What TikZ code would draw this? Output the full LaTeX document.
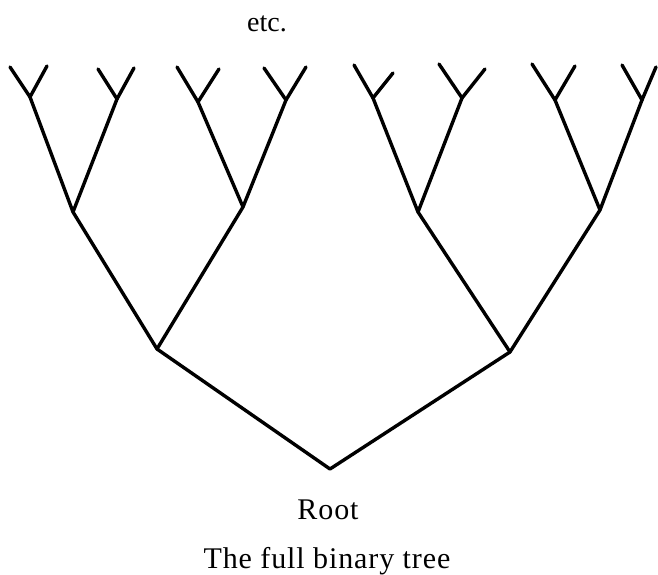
\documentclass[tikz,border=0pt]{standalone}
\usepackage{fontspec}
\setmainfont{Liberation Serif}
\newfontfamily\spacedserif[LetterSpace=3]{Liberation Serif}
\begin{document}
\begin{tikzpicture}[x=1pt,y=-1pt,
  branch/.style={line width=3.4pt,line cap=round,line join=round},
  lbl/.style={font=\fontsize{28}{30}\selectfont,inner sep=0pt},
  biglbl/.style={font=\spacedserif\fontsize{30}{32}\selectfont,inner sep=0pt}]
\useasboundingbox (0,0) rectangle (658,575);
% root and levels
\coordinate (r) at (330,469);
\coordinate (a) at (157,349);
\coordinate (b) at (510,352);
\coordinate (aa) at (73,212);
\coordinate (ab) at (243,207);
\coordinate (ba) at (418,212);
\coordinate (bb) at (600,210);
\coordinate (aaa) at (30,97);
\coordinate (aab) at (117,99);
\coordinate (aba) at (198,102);
\coordinate (abb) at (286,100);
\coordinate (baa) at (373,98);
\coordinate (bab) at (462,98);
\coordinate (bba) at (555,100);
\coordinate (bbb) at (642,100);
% tips
\coordinate (t1) at (10,67);  \coordinate (t2) at (47,66);
\coordinate (t3) at (98,69);  \coordinate (t4) at (134,68);
\coordinate (t5) at (177,67); \coordinate (t6) at (219,69);
\coordinate (t7) at (264,68); \coordinate (t8) at (306,67);
\coordinate (t9) at (354,65); \coordinate (t10) at (393,73);
\coordinate (t11) at (439,64); \coordinate (t12) at (485,69);
\coordinate (t13) at (532,64); \coordinate (t14) at (575,66);
\coordinate (t15) at (622,65); \coordinate (t16) at (656,67);
\draw[branch] (a) -- (r) -- (b);
\draw[branch] (aa) -- (a) -- (ab);
\draw[branch] (ba) -- (b) -- (bb);
\draw[branch] (aaa) -- (aa) -- (aab);
\draw[branch] (aba) -- (ab) -- (abb);
\draw[branch] (baa) -- (ba) -- (bab);
\draw[branch] (bba) -- (bb) -- (bbb);
\draw[branch] (t1) -- (aaa) -- (t2);
\draw[branch] (t3) -- (aab) -- (t4);
\draw[branch] (t5) -- (aba) -- (t6);
\draw[branch] (t7) -- (abb) -- (t8);
\draw[branch] (t9) -- (baa) -- (t10);
\draw[branch] (t11) -- (bab) -- (t12);
\draw[branch] (t13) -- (bba) -- (t14);
\draw[branch] (t15) -- (bbb) -- (t16);
% labels
\node[lbl,anchor=base] (etc) at (267,32) {etc.};
\node[biglbl,anchor=base] (rootlbl) at (328,519) {Root};
\node[biglbl,anchor=base] (cap) at (327,568) {The full binary tree};
\end{tikzpicture}
\end{document}
